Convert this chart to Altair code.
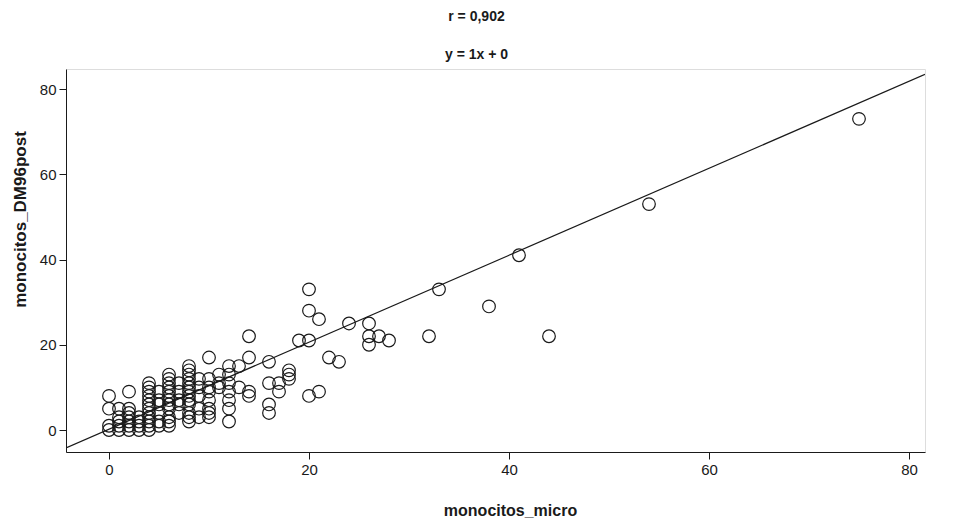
import altair as alt
import pandas as pd

micro = [0, 0, 0, 0,
         1, 1, 1, 1, 1,
         2, 2, 2, 2, 2, 2, 2,
         3, 3, 3, 3,
         4, 4, 4, 4, 4, 4, 4, 4, 4, 4, 4, 4,
         5, 5, 5, 5, 5, 5,
         6, 6, 6, 6, 6, 6, 6, 6, 6, 6, 6, 6,
         7, 7, 7, 7, 7,
         8, 8, 8, 8, 8, 8, 8, 8, 8, 8, 8, 8, 8,
         9, 9, 9, 9, 9,
         10, 10, 10, 10, 10, 10, 10, 10,
         11, 11, 11,
         12, 12, 12, 12, 12, 12, 12,
         13, 13,
         14, 14, 14, 14,
         16, 16, 16, 16,
         17, 17,
         18, 18, 18,
         19,
         20, 20, 20, 20,
         21, 21,
         22, 23, 24,
         26, 26, 26,
         27, 28, 32, 33, 38, 41, 44, 54, 75]

dm96 = [0, 1, 5, 8,
        0, 1, 2, 3, 5,
        0, 1, 2, 3, 4, 5, 9,
        0, 1, 2, 3,
        0, 1, 2, 3, 4, 5, 6, 7, 8, 9, 10, 11,
        1, 2, 4, 6, 7, 9,
        1, 2, 3, 5, 6, 7, 8, 9, 10, 11, 12, 13,
        4, 6, 7, 9, 11,
        2, 3, 4, 6, 7, 8, 9, 10, 11, 12, 13, 14, 15,
        3, 5, 8, 10, 12,
        3, 4, 5, 7, 9, 10, 12, 17,
        10, 11, 13,
        2, 5, 7, 9, 11, 13, 15,
        10, 15,
        8, 9, 17, 22,
        4, 6, 11, 16,
        9, 11,
        12, 13, 14,
        21,
        8, 21, 28, 33,
        9, 26,
        17, 16, 25,
        20, 22, 25,
        22, 21, 22, 33, 29, 41, 22, 53, 73]

x_ticks = [0, 20, 40, 60, 80]
y_ticks = [0, 20, 40, 60, 80]

# fit line as drawn in the reference (labelled "y = 1x + 0")
fit_slope = 1.02
fit_intercept = 0.2
fit_extent = [-4.3, 81.6]

df = pd.DataFrame({"micro": micro, "dm96": dm96})
line_df = pd.DataFrame({"micro": fit_extent})

FONT = "Liberation Sans"
INK = "#1a1a1a"
xscale = alt.Scale(domain=fit_extent, nice=False, zero=False)
yscale = alt.Scale(domain=[-5.16, 84.7], nice=False, zero=False)

xaxis = alt.Axis(values=x_ticks, title="monocitos_micro", grid=False,
                 labelFont=FONT, labelFontSize=15, labelColor=INK,
                 titleFont=FONT, titleFontSize=16, titleFontWeight="bold", titleColor=INK,
                 tickSize=7, tickColor=INK, domainColor=INK,
                 labelPadding=3, titlePadding=25, titleX=444)
yaxis = alt.Axis(values=y_ticks, title="monocitos_DM96post", grid=False,
                 labelFont=FONT, labelFontSize=15, labelColor=INK,
                 titleFont=FONT, titleFontSize=17, titleFontWeight="bold", titleColor=INK,
                 tickSize=7, tickColor=INK, domainColor=INK,
                 labelPadding=3, titlePadding=10, titleY=150)

points = alt.Chart(df).mark_point(shape="circle", filled=False, size=160,
                                  color=INK, strokeWidth=1.2, opacity=1).encode(
    x=alt.X("micro:Q", scale=xscale, axis=xaxis),
    y=alt.Y("dm96:Q", scale=yscale, axis=yaxis),
)

line = alt.Chart(line_df).transform_calculate(
    dm96=f"{fit_slope} * datum.micro + {fit_intercept}"
).mark_line(color=INK, strokeWidth=1.2, clip=True).encode(
    x=alt.X("micro:Q", scale=xscale),
    y=alt.Y("dm96:Q", scale=yscale),
)

chart = alt.layer(points, line).properties(
    width=859, height=383,
    autosize=alt.AutoSizeParams(type="none"),
    padding={"left": 58, "top": 61, "right": 20, "bottom": 72},
    title=alt.TitleParams(text="r = 0,902", subtitle="y = 1x + 0",
                          font=FONT, fontSize=14, fontWeight="bold", color=INK,
                          subtitleFont=FONT, subtitleFontSize=14, subtitleFontWeight="bold",
                          subtitleColor=INK, subtitlePadding=24, offset=7,
                          anchor="middle", dx=-19),
).configure_view(stroke=INK, strokeWidth=1.2).configure(background="white")

chart.save("out.html", embed_options={"renderer": "svg", "actions": False})
